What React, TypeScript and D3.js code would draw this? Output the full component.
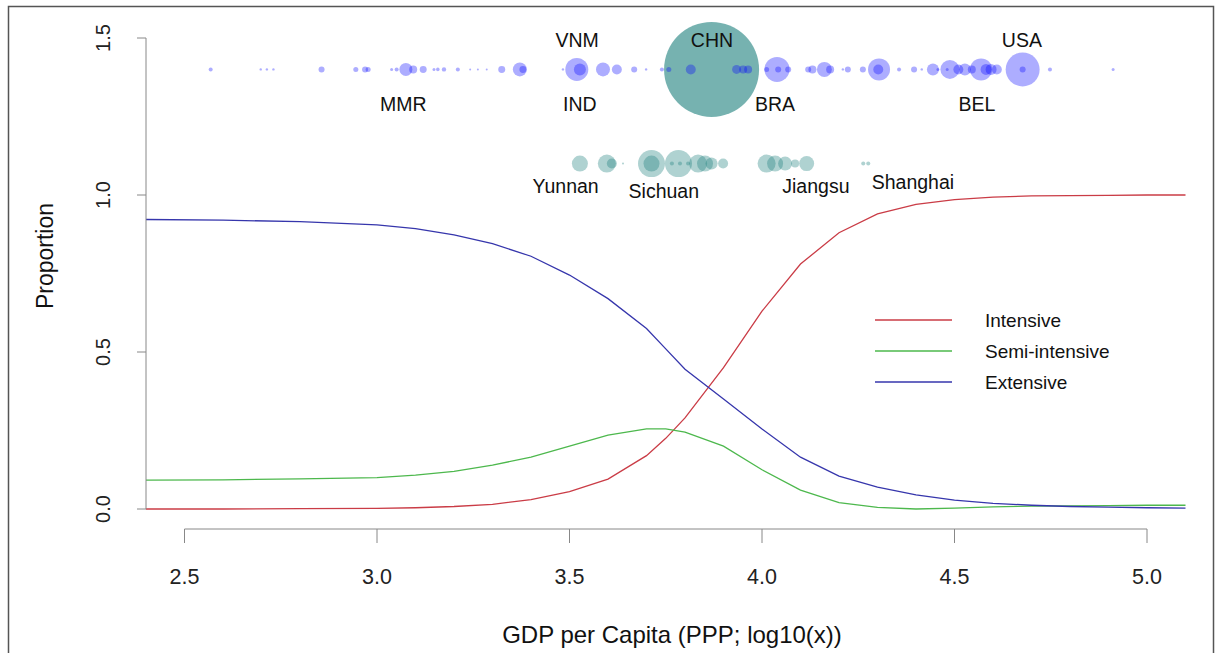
import React from "react";
import * as d3 from "d3";

// logistic fits of production system share vs log10 GDP per capita
const gdpGrid = [2.4, 2.6, 2.8, 3.0, 3.1, 3.2, 3.3, 3.4, 3.5, 3.6, 3.7, 3.75, 3.8, 3.9, 4.0, 4.1, 4.2, 4.3, 4.4, 4.5, 4.6, 4.7, 4.8, 4.9, 5.0, 5.1];
const intensive = [0.0, 0.0, 0.001, 0.002, 0.004, 0.008, 0.015, 0.03, 0.055, 0.095, 0.17, 0.225, 0.29, 0.45, 0.63, 0.78, 0.88, 0.94, 0.97, 0.985, 0.993, 0.997, 0.998, 0.999, 1.0, 1.0];
const semiIntensive = [0.092, 0.093, 0.096, 0.1, 0.108, 0.12, 0.14, 0.165, 0.2, 0.235, 0.255, 0.255, 0.245, 0.2, 0.125, 0.06, 0.02, 0.005, 0.0, 0.003, 0.007, 0.009, 0.01, 0.011, 0.012, 0.012];
const extensive = [0.922, 0.92, 0.915, 0.905, 0.893, 0.873, 0.845, 0.805, 0.745, 0.67, 0.575, 0.51, 0.445, 0.35, 0.255, 0.165, 0.105, 0.07, 0.045, 0.028, 0.018, 0.012, 0.008, 0.006, 0.004, 0.003];

const seriesNames = ["Intensive", "Semi-intensive", "Extensive"];

// countries: log10 GDP, production size
const countryGdp = [2.568, 2.698, 2.714, 2.731, 2.856, 2.945, 2.969, 2.977, 3.038, 3.051, 3.075, 3.094, 3.12, 3.148, 3.158, 3.174, 3.21, 3.242, 3.262, 3.285, 3.324, 3.371, 3.379, 3.483, 3.519, 3.527, 3.587, 3.623, 3.668, 3.699, 3.74, 3.758, 3.815, 3.934, 3.951, 3.964, 4.039, 4.012, 4.042, 4.068, 4.12, 4.131, 4.162, 4.177, 4.21, 4.223, 4.262, 4.304, 4.302, 4.356, 4.395, 4.415, 4.444, 4.457, 4.481, 4.488, 4.51, 4.527, 4.545, 4.569, 4.582, 4.595, 4.61, 4.677, 4.677, 4.748, 4.912];
const countrySize = [0.18, 0.064, 0.064, 0.064, 0.4, 0.28, 0.4, 0.28, 0.1, 0.18, 1.87, 0.71, 0.54, 0.1, 0.14, 0.21, 0.18, 0.044, 0.044, 0.044, 0.54, 2.17, 0.54, 0.064, 5.86, 1.6, 2.17, 1.1, 0.4, 0.064, 0.18, 0.28, 1.1, 0.9, 0.71, 0.71, 6.93, 0.28, 0.4, 0.4, 0.4, 0.71, 2.49, 0.71, 0.064, 0.4, 0.4, 5.36, 1.1, 0.18, 0.4, 0.064, 1.6, 0.1, 0.1, 4.0, 1.1, 1.6, 0.71, 5.36, 1.34, 1.34, 1.1, 12.8, 0.4, 0.18, 0.1];
const chinaGdp = 3.869;
const chinaSize = 100;

// Chinese provinces
const provinceGdp = [3.527, 3.597, 3.61, 3.639, 3.713, 3.713, 3.783, 3.766, 3.787, 3.808, 3.834, 3.852, 3.869, 3.899, 4.012, 4.034, 4.06, 4.086, 4.116, 4.263, 4.276];
const provinceSize = [2.84, 3.59, 1.1, 0.044, 8.08, 2.84, 8.08, 0.18, 0.18, 0.18, 3.59, 2.84, 1.6, 1.1, 3.59, 2.84, 2.17, 0.71, 2.49, 0.18, 0.18];

const countryLabels = ["VNM", "CHN", "USA", "MMR", "IND", "BRA", "BEL"];
const countryLabelGdp = [3.52, 3.87, 4.675, 3.068, 3.527, 4.034, 4.558];
const countryLabelAbove = [true, true, true, false, false, false, false];
const provinceLabels = ["Yunnan", "Sichuan", "Jiangsu", "Shanghai"];
const provinceLabelGdp = [3.49, 3.745, 4.14, 4.392];
const provinceLabelDy = [0, 5, 0, -4];

const xTicks = [2.5, 3.0, 3.5, 4.0, 4.5, 5.0];
const yTicks = [0, 0.5, 1.0, 1.5];

const W = 1223;
const H = 653;
const font = "'Liberation Sans', Arial, sans-serif";

export default function App() {
  const x = d3.scaleLinear().domain([2.4, 5.1]).range([146, 1185.5]);
  const y = d3.scaleLinear().domain([0, 1.5]).range([509, 38]);
  const r = d3.scaleSqrt().domain([0, 100]).range([0, 47.5]);

  const colors = ["#CA3C46", "#4DB84D", "#3636AC"];
  const series = [intensive, semiIntensive, extensive];
  const line = d3
    .line<number>()
    .x((_, i) => x(gdpGrid[i]))
    .y((d) => y(d));

  const rowTop = y(1.4);
  const rowMid = y(1.1);

  return (
    <svg width={W} height={H} style={{ position: "absolute", left: 0, top: 0, background: "#fff" }} fontFamily={font}>
      <rect x={8.5} y={6.5} width={1205} height={660} fill="none" stroke="#555" strokeWidth={1.5} />

      {/* curves */}
      {series.map((s, i) => (
        <path key={seriesNames[i]} d={line(s) || ""} fill="none" stroke={colors[i]} strokeWidth={1.3} />
      ))}

      {/* y axis */}
      <line x1={146} x2={146} y1={y(0)} y2={y(1.5)} stroke="#888" />
      {yTicks.map((t) => (
        <g key={t}>
          <line x1={137} x2={146} y1={y(t)} y2={y(t)} stroke="#888" />
          <text
            transform={`translate(${110},${y(t)}) rotate(-90)`}
            textAnchor="middle"
            fontSize={20}
            fill="#222"
          >
            {d3.format(".1f")(t)}
          </text>
        </g>
      ))}
      <text transform={`translate(${53},${256}) rotate(-90)`} textAnchor="middle" fontSize={23} fill="#111">
        Proportion
      </text>

      {/* x axis */}
      <line x1={x(2.5)} x2={x(5.0)} y1={529} y2={529} stroke="#888" />
      {xTicks.map((t) => (
        <g key={t}>
          <line x1={x(t)} x2={x(t)} y1={529} y2={543} stroke="#888" />
          <text x={x(t)} y={584} textAnchor="middle" fontSize={21.5} fill="#222">
            {d3.format(".1f")(t)}
          </text>
        </g>
      ))}
      <text x={672} y={643} textAnchor="middle" fontSize={24} fill="#111">
        GDP per Capita (PPP; log10(x))
      </text>

      {/* China bubble under the country row */}
      <circle cx={x(chinaGdp)} cy={rowTop} r={r(chinaSize)} fill="#1A7F7C" fillOpacity={0.6} />
      {countryGdp.map((g, i) => (
        <circle key={"c" + i} cx={x(g)} cy={rowTop} r={r(countrySize[i])} fill="#0000FF" fillOpacity={0.32} />
      ))}
      {provinceGdp.map((g, i) => (
        <circle key={"p" + i} cx={x(g)} cy={rowMid} r={r(provinceSize[i])} fill="#1A7F7C" fillOpacity={0.35} />
      ))}

      {countryLabels.map((l, i) => (
        <text
          key={l}
          x={x(countryLabelGdp[i])}
          y={countryLabelAbove[i] ? 47 : 111}
          textAnchor="middle"
          fontSize={19.5}
          fill="#111"
        >
          {l}
        </text>
      ))}
      {provinceLabels.map((l, i) => (
        <text key={l} x={x(provinceLabelGdp[i])} y={193 + provinceLabelDy[i]} textAnchor="middle" fontSize={19.5} fill="#111">
          {l}
        </text>
      ))}

      {/* legend */}
      {seriesNames.map((n, i) => (
        <g key={n}>
          <line x1={875} x2={952} y1={320 + i * 31} y2={320 + i * 31} stroke={colors[i]} strokeWidth={1.3} />
          <text x={985} y={327 + i * 31} fontSize={19} fill="#111">
            {n}
          </text>
        </g>
      ))}
    </svg>
  );
}
